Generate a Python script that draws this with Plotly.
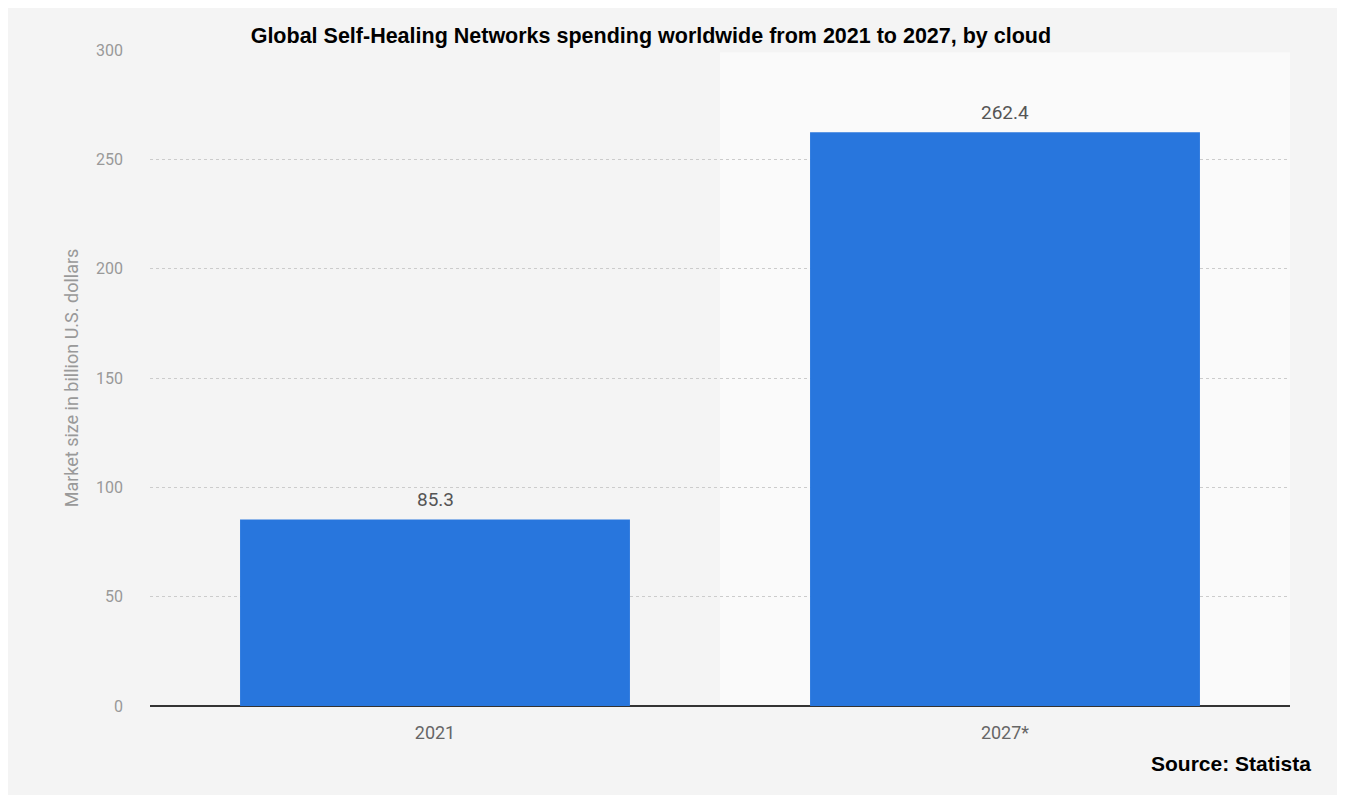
import plotly.graph_objects as go

# Data
years = ['2021', '2027*']
market_size = [85.3, 262.4]
y_ticks = [0, 50, 100, 150, 200, 250, 300]

fig = go.Figure()

fig.add_trace(go.Bar(
    x=years,
    y=market_size,
    width=0.684,
    marker=dict(color='#2876dd', line=dict(width=0)),
    showlegend=False
))

# lighter band behind the forecast year
fig.add_shape(
    type='rect', xref='x', yref='y',
    x0=0.5, x1=1.5, y0=0, y1=299,
    fillcolor='#fafafa', line=dict(width=0), layer='below'
)

fig.update_layout(
    width=1345, height=795,
    paper_bgcolor='#f4f4f4',
    plot_bgcolor='#f4f4f4',
    margin=dict(l=142, r=63, t=42, b=97),
    bargap=0.316,
    title=dict(
        text='<b>Global Self-Healing Networks spending worldwide from 2021 to 2027, by cloud</b>',
        font=dict(family='Liberation Sans Narrow, Arial Narrow, sans-serif', size=21.5, color='#000000'),
        x=0.478, xanchor='center', y=0.965, yanchor='middle'
    ),
    xaxis=dict(
        type='category',
        showgrid=False,
        tickfont=dict(family='Roboto, Arial, sans-serif', size=18, color='#666666'),
        ticks='', ticklabelstandoff=14,
        showline=False
    ),
    yaxis=dict(
        range=[0, 300],
        tickvals=y_ticks,
        showgrid=True, gridcolor='#cccccc', griddash='dot', gridwidth=1,
        zeroline=True, zerolinecolor='#333333', zerolinewidth=2,
        tickfont=dict(family='Roboto, Arial, sans-serif', size=16, color='#999999'),
        ticklabelstandoff=26,
        title=dict(text='Market size in billion U.S. dollars',
                   font=dict(family='Roboto, Arial, sans-serif', size=18, color='#999999'),
                   standoff=12)
    )
)

# value labels above the bars (category index positions)
for i, v in enumerate(market_size):
    fig.add_annotation(
        x=i, y=v, text=str(v), showarrow=False,
        yanchor='bottom', yshift=6,
        font=dict(family='Roboto, Arial, sans-serif', size=19, color='#555555')
    )

fig.add_annotation(
    text='<b>Source: Statista</b>',
    xref='paper', yref='paper', x=1.02, y=-0.087,
    xanchor='right', yanchor='middle', showarrow=False,
    font=dict(family='Liberation Sans Narrow, Arial Narrow, sans-serif', size=21, color='#000000')
)

fig.write_html('out.html')
